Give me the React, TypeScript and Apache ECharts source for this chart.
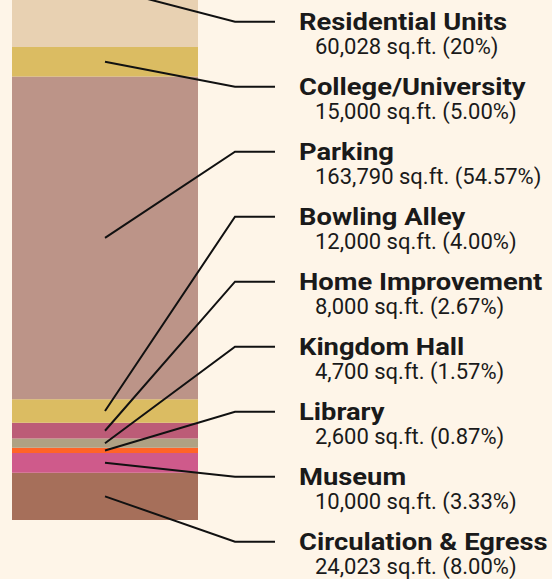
import React, { useEffect, useRef } from "react";
import * as echarts from "echarts";

const categories = [
  "Circulation & Egress",
  "Museum",
  "Library",
  "Kingdom Hall",
  "Home Improvement",
  "Bowling Alley",
  "Parking",
  "College/University",
  "Residential Units",
];
const values = [24023, 10000, 2600, 4700, 8000, 12000, 163790, 15000, 60028];
const valueLabels = [
  "24,023 sq.ft.",
  "10,000 sq.ft.",
  "2,600 sq.ft.",
  "4,700 sq.ft.",
  "8,000 sq.ft.",
  "12,000 sq.ft.",
  "163,790 sq.ft.",
  "15,000 sq.ft.",
  "60,028 sq.ft.",
];
const pctLabels = ["8.00%", "3.33%", "0.87%", "1.57%", "2.67%", "4.00%", "54.57%", "5.00%", "20%"];
const colors = [
  "#A66F5A",
  "#CF5A8B",
  "#FF6428",
  "#AFA183",
  "#BC5C77",
  "#DBBC62",
  "#BC9488",
  "#DBBC62",
  "#E8D1B2",
];
// visible part of the value axis (the top of the stack runs past the view)
const axisMax = 264000;

export default function App() {
  const ref = useRef<HTMLDivElement>(null);
  useEffect(() => {
    document.body.style.margin = "0";
    document.body.style.background = "#FEF5E8";
    if (!ref.current) return;
    const chart = echarts.init(ref.current, null, { renderer: "svg" });
    const mids: number[] = [];
    let acc = 0;
    values.forEach((v) => {
      mids.push(acc + v / 2);
      acc += v;
    });
    const n = categories.length;
    const labelTop = 21.7;
    const labelStep = 65;
    chart.setOption({
      animation: false,
      backgroundColor: "#FEF5E8",
      grid: { left: 12, width: 186, top: 0, bottom: 59 },
      xAxis: { type: "category", data: ["Total"], show: false },
      yAxis: { type: "value", min: 0, max: axisMax, show: false },
      series: [
        ...categories.map((c, i) => ({
          type: "bar",
          name: c,
          stack: "all",
          barWidth: "100%",
          data: [values[i]],
          itemStyle: { color: colors[i] },
          silent: true,
        })),
        {
          type: "custom",
          clip: false,
          z: 10,
          data: mids.map((m, i) => [0, m, i]),
          renderItem: (params: any, api: any) => {
            const i = api.value(2);
            const p = api.coord([0, api.value(1)]);
            const ly = labelTop + (n - 1 - i) * labelStep;
            return {
              type: "group",
              children: [
                {
                  type: "polyline",
                  shape: { points: [p, [235, ly], [275, ly]] },
                  style: { stroke: "#111", lineWidth: 2, fill: "none" },
                },
                {
                  type: "text",
                  x: 299,
                  y: ly,
                  scaleX: 1.14,
                  style: {
                    text: categories[i],
                    font: "bold 24px Roboto",
                    fill: "#1a1a1a",
                    verticalAlign: "middle",
                    align: "left",
                  },
                },
                {
                  type: "text",
                  x: 315,
                  y: ly + 25,
                  style: {
                    text: valueLabels[i] + " (" + pctLabels[i] + ")",
                    font: "22px Roboto",
                    fill: "#1a1a1a",
                    verticalAlign: "middle",
                    align: "left",
                  },
                },
              ],
            };
          },
        },
      ],
    });
    return () => chart.dispose();
  }, []);
  return <div ref={ref} style={{ width: 552, height: 579 }} />;
}
